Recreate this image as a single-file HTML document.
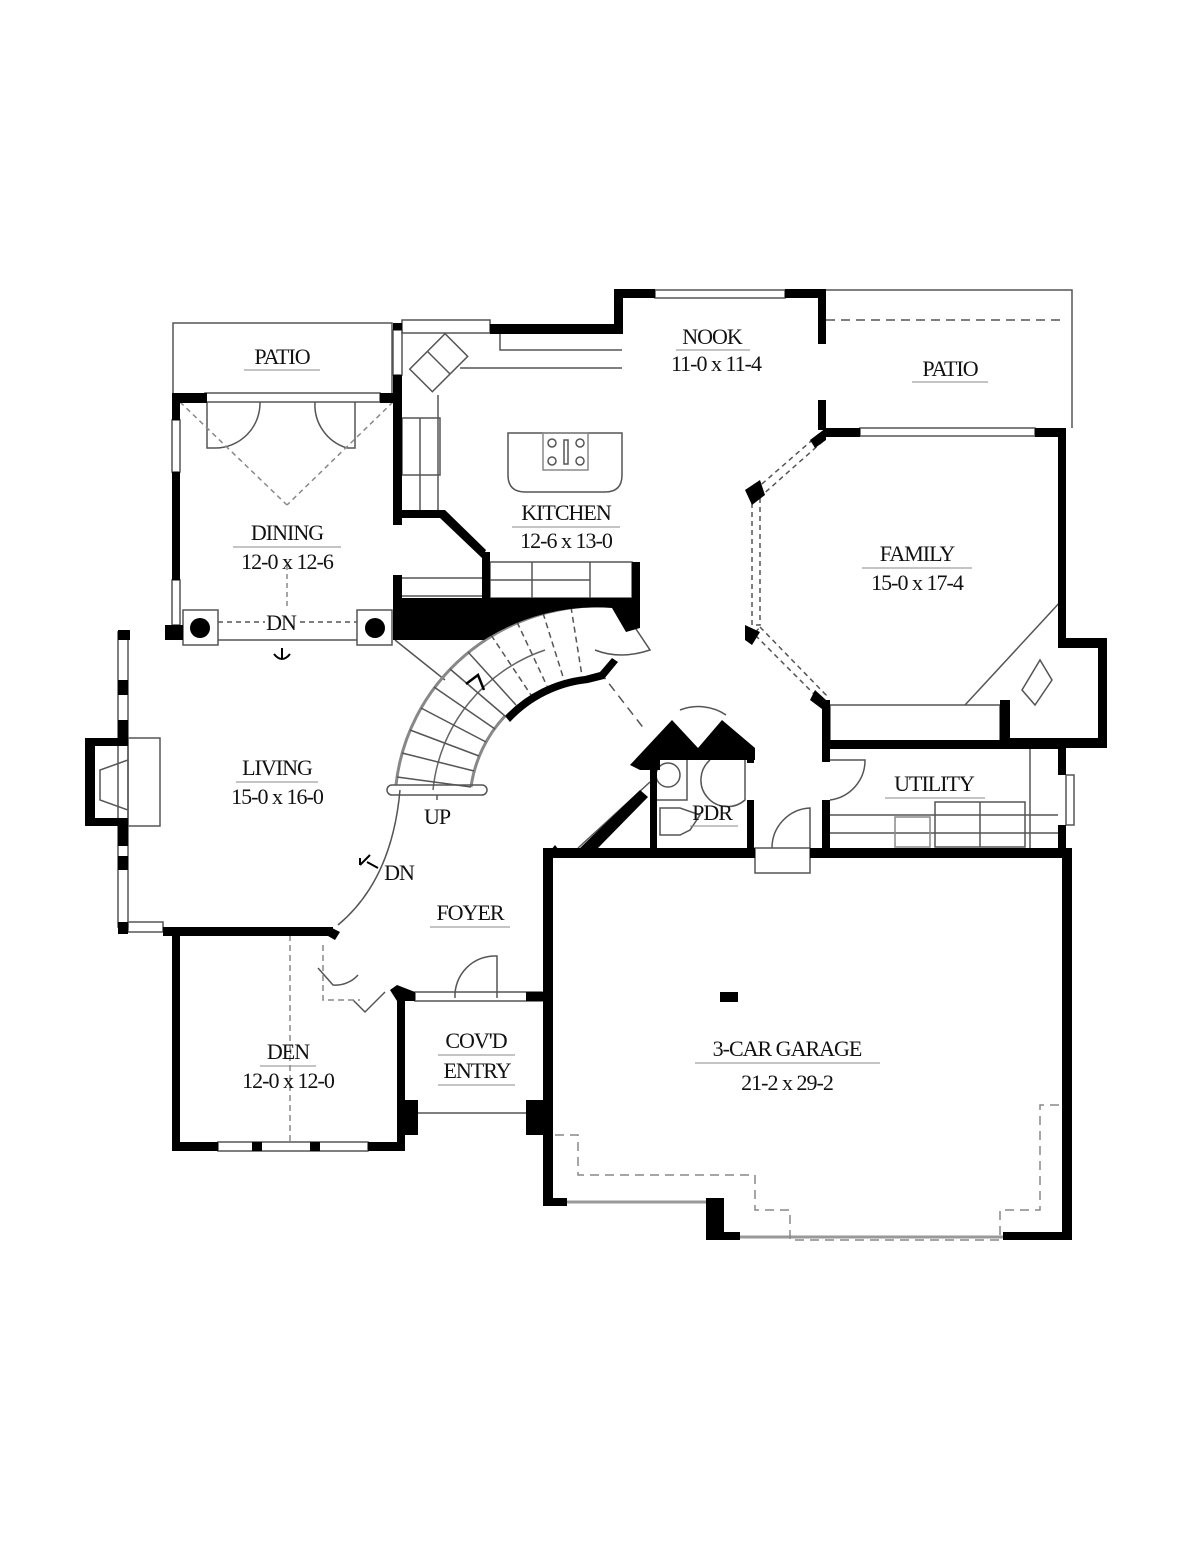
<!DOCTYPE html>
<html><head><meta charset="utf-8"><style>
html,body{margin:0;padding:0;background:#fff}
svg{display:block}
text{font-family:"Liberation Serif",serif;fill:#111;text-anchor:middle}
.n{font-size:22px;letter-spacing:-1px}
.d{font-size:22px;letter-spacing:-1px}
</style></head><body>
<svg width="1200" height="1553" viewBox="0 0 1200 1553" xmlns="http://www.w3.org/2000/svg">
<rect width="1200" height="1553" fill="#fff"/>
<g fill="none" stroke="#555" stroke-width="1.5">
<polyline points="173,395 173,323 392,323 392,395"/>
<polyline points="826,290 1072,290 1072,428"/>
<line x1="826" y1="320" x2="1062" y2="320" stroke-dasharray="9,6"/>
<rect x="402" y="320" width="88" height="13"/>
<rect x="393" y="330" width="9" height="45"/>
<polyline points="500,333 500,350 622,350"/>
<polyline points="460,368 622,368"/>
<polyline points="438,395 438,510"/>
<polyline points="420,418 420,510"/>
<rect x="402" y="418" width="38" height="57"/>
<g transform="rotate(-45 438 362)"><rect x="413" y="347" width="50" height="32"/><line x1="438" y1="347" x2="438" y2="379"/></g>
<path d="M508,433 H622 V475 Q622,492 605,492 H525 Q508,492 508,475 Z"/>
<rect x="543" y="433" width="45" height="37" stroke="#888"/>
<circle cx="552" cy="443" r="4"/><circle cx="580" cy="443" r="4"/><circle cx="552" cy="461" r="4"/><circle cx="580" cy="461" r="4"/>
<rect x="564" y="440" width="4" height="24"/>
<rect x="490" y="562" width="142" height="36"/>
<line x1="490" y1="580" x2="590" y2="580"/><line x1="532" y1="562" x2="532" y2="598"/><line x1="590" y1="562" x2="590" y2="598"/>
<line x1="402" y1="578" x2="482" y2="578"/><line x1="402" y1="596" x2="482" y2="596"/>
<rect x="655" y="290" width="130" height="8"/>
<rect x="860" y="428" width="175" height="8"/>
<rect x="205" y="393" width="175" height="9"/>
<path d="M207,402 V448 H215 M260,402 A45,45 0 0 1 215,448"/>
<path d="M355,402 V448 H347 M315,402 A45,45 0 0 0 347,448"/>
<line x1="180" y1="402" x2="287" y2="505" stroke-dasharray="5,4" stroke="#888"/>
<line x1="393" y1="402" x2="287" y2="505" stroke-dasharray="5,4" stroke="#888"/>
<line x1="287" y1="565" x2="287" y2="610" stroke-dasharray="5,4" stroke="#888"/>
<rect x="172" y="420" width="8" height="52"/>
<rect x="172" y="580" width="8" height="45"/>
<rect x="183" y="610" width="35" height="35"/><rect x="357" y="610" width="35" height="35"/>
<line x1="218" y1="640" x2="357" y2="640"/>
<line x1="218" y1="622" x2="265" y2="622" stroke-dasharray="5,4"/><line x1="300" y1="622" x2="357" y2="622" stroke-dasharray="5,4"/>
<rect x="118" y="632" width="10" height="295"/>
<rect x="128" y="738" width="32" height="88"/>
<path d="M128,760 L100,770 V800 L128,810"/>
<rect x="128" y="922" width="35" height="10"/>
<rect x="218" y="1142" width="150" height="9"/>
<line x1="290" y1="935" x2="290" y2="1142" stroke-dasharray="6,4" stroke="#888"/>
<rect x="415" y="992" width="127" height="9"/>
<line x1="415" y1="1113" x2="526" y2="1113"/>
<path d="M455,998 A40,40 0 0 1 497,956 V998"/>
<path d="M318,968 L333,985 A30,30 0 0 0 358,975 M353,1000 L365,1012 L385,992"/>
<polyline points="323,945 323,1000 360,1000" stroke-dasharray="6,4" stroke="#888"/>
<path d="M400,790 Q392,880 338,925"/>
<line x1="395" y1="640" x2="445" y2="680"/>
<!-- stair -->
<path d="M396,785 A205,200 0 0 1 605,606" stroke="#888" stroke-width="3"/>
<path d="M471,787 A130,130 0 0 1 505,716" stroke="#888" stroke-width="3"/>
<path d="M433,790 A167,165 0 0 1 545,650" stroke="#666"/>
<g stroke="#555">
<line x1="468" y1="652" x2="516" y2="705"/><line x1="450" y1="669" x2="505" y2="716"/><line x1="434" y1="687" x2="495" y2="729"/>
<line x1="421" y1="708" x2="486" y2="742"/><line x1="410" y1="730" x2="479" y2="756"/><line x1="402" y1="753" x2="474" y2="771"/>
<line x1="397" y1="777" x2="471" y2="787"/>
</g>
<g stroke="#555" stroke-dasharray="6,4">
<line x1="571" y1="607" x2="582" y2="676"/><line x1="543" y1="613" x2="564" y2="680"/><line x1="517" y1="622" x2="547" y2="686"/>
<line x1="491" y1="635" x2="531" y2="695"/>
<line x1="600" y1="672" x2="645" y2="730" stroke-dasharray="9,6"/>
</g>
<rect x="387" y="785" width="100" height="10" rx="5"/>
<line x1="437" y1="795" x2="437" y2="800"/>
<path d="M618,602 L650,650 Q620,660 595,650"/>
<g stroke-dasharray="5,4"><polygon points="755,490 818,435 822,442 760,497"/><rect x="752" y="497" width="8" height="128"/><polygon points="760,627 826,695 820,700 754,634"/></g>
<rect x="830" y="705" width="170" height="36"/>
<line x1="965" y1="705" x2="1062" y2="600"/>
<path d="M1022,690 L1040,660 L1052,680 L1035,705 Z"/>
<line x1="830" y1="815" x2="1058" y2="815"/><line x1="830" y1="833" x2="1058" y2="833"/>
<line x1="1030" y1="748" x2="1030" y2="850"/>
<rect x="935" y="802" width="90" height="45"/><line x1="980" y1="802" x2="980" y2="847"/>
<rect x="895" y="817" width="35" height="30" stroke="#888"/>
<rect x="1066" y="775" width="8" height="50"/>
<path d="M830,760 H865 A40,40 0 0 1 830,800"/>
<path d="M772,848 A40,40 0 0 1 810,808 V848"/>
<rect x="755" y="848" width="55" height="25"/>
<path d="M710,760 A25,25 0 0 0 745,800 V760"/>
<path d="M680,710 A45,40 0 0 1 726,715"/>
<rect x="655" y="752" width="32" height="48"/>
<circle cx="668" cy="775" r="12"/>
<path d="M660,808 H680 L700,815 L690,830 L680,835 H660 Z"/>
<line x1="578" y1="848" x2="650" y2="782"/>
<line x1="567" y1="1202" x2="706" y2="1202" stroke-width="3" stroke="#999"/>
<line x1="740" y1="1237" x2="1003" y2="1237" stroke-width="3" stroke="#999"/>
<g stroke-dasharray="9,6" stroke="#888"><polyline points="555,1135 578,1135 578,1175 755,1175 755,1210 790,1210 790,1240 1000,1240 1000,1210 1040,1210 1040,1105 1062,1105"/></g>
</g>
<g fill="#000">
<rect x="172" y="395" width="8" height="25"/><rect x="172" y="472" width="8" height="108"/>
<rect x="172" y="393" width="35" height="10"/><rect x="380" y="393" width="13" height="10"/>
<rect x="393" y="323" width="9" height="7"/><rect x="393" y="375" width="9" height="150"/>
<rect x="393" y="575" width="9" height="65"/>
<rect x="165" y="625" width="18" height="15"/>
<circle cx="200" cy="628" r="10"/><circle cx="375" cy="628" r="10"/>
<rect x="490" y="324" width="132" height="10"/><rect x="614" y="290" width="9" height="44"/>
<rect x="614" y="289" width="41" height="9"/><rect x="785" y="289" width="41" height="9"/>
<rect x="818" y="289" width="8" height="55"/><rect x="818" y="400" width="8" height="30"/>
<polygon points="402,510 445,510 486,550 482,558 440,518 402,518"/>
<rect x="482" y="552" width="8" height="50"/><rect x="632" y="562" width="8" height="40"/>
<path d="M395,598 H640 V628 L626,632 L612,608 A205,200 0 0 0 484,640 H395 Z"/>
<path d="M505,716 A130,130 0 0 1 585,676 L600,672 L612,658 L618,662 L604,679 L588,683 A124,124 0 0 0 510,722 Z"/>
<rect x="826" y="428" width="34" height="9"/><rect x="1035" y="428" width="31" height="9"/>
<rect x="1058" y="428" width="8" height="215"/>
<polygon points="1058,638 1107,638 1107,748 1000,748 1000,700 1010,700 1010,738 1098,738 1098,648 1058,648"/>
<polygon points="745,490 760,480 765,495 752,505"/><polygon points="745,625 760,632 752,645 745,640"/>
<polygon points="810,440 826,428 826,440 815,448"/>
<polygon points="815,690 826,700 826,712 810,700"/>
<rect x="822" y="700" width="8" height="62"/><rect x="822" y="800" width="8" height="50"/>
<rect x="826" y="740" width="240" height="9"/>
<rect x="1058" y="748" width="8" height="27"/><rect x="1058" y="825" width="8" height="30"/>
<rect x="543" y="848" width="212" height="10"/><rect x="810" y="848" width="262" height="10"/>
<polygon points="543,860 555,845 565,858 552,858"/>
<rect x="543" y="848" width="10" height="357"/>
<rect x="543" y="1198" width="24" height="8"/>
<rect x="706" y="1198" width="18" height="42"/><rect x="706" y="1232" width="34" height="8"/>
<rect x="1003" y="1232" width="69" height="8"/>
<rect x="1062" y="848" width="10" height="392"/>
<rect x="720" y="992" width="18" height="10"/>
<polygon points="630,765 672,720 698,748 722,720 755,748 755,760 660,760 660,770 640,770"/>
<rect x="650" y="752" width="7" height="103"/><rect x="747" y="800" width="7" height="55"/>
<rect x="747" y="748" width="7" height="15"/>
<polygon points="580,848 640,790 648,797 598,848"/>
<rect x="118" y="630" width="12" height="10"/><rect x="118" y="680" width="10" height="15"/>
<rect x="118" y="856" width="10" height="14"/><rect x="118" y="922" width="10" height="12"/>
<polygon points="85,738 128,738 128,746 95,746 95,818 128,818 128,826 85,826"/>
<rect x="118" y="720" width="10" height="20"/><rect x="118" y="826" width="10" height="20"/>
<rect x="163" y="927" width="170" height="9"/><polygon points="330,927 340,932 335,940 328,936"/>
<rect x="172" y="927" width="8" height="223"/><rect x="172" y="1142" width="46" height="9"/>
<rect x="252" y="1142" width="10" height="9"/><rect x="310" y="1142" width="10" height="9"/><rect x="368" y="1142" width="37" height="9"/>
<rect x="397" y="990" width="8" height="160"/>
<polygon points="390,990 397,985 415,992 415,1001 397,1001"/>
<rect x="400" y="1100" width="18" height="35"/>
<rect x="526" y="1100" width="18" height="35"/>
<rect x="526" y="992" width="17" height="9"/>
</g>
<text class="n" x="282" y="364">PATIO</text><line x1="244" y1="370" x2="320" y2="370" stroke="#888"/>
<text class="n" x="950" y="376">PATIO</text><line x1="912" y1="382" x2="988" y2="382" stroke="#888"/>
<text class="n" x="712" y="344">NOOK</text><line x1="676" y1="350" x2="750" y2="350" stroke="#888"/>
<text class="d" x="716" y="371">11-0 x 11-4</text>
<text class="n" x="566" y="520">KITCHEN</text><line x1="512" y1="527" x2="620" y2="527" stroke="#888"/>
<text class="d" x="566" y="548">12-6 x 13-0</text>
<text class="n" x="287" y="540">DINING</text><line x1="233" y1="547" x2="341" y2="547" stroke="#888"/>
<text class="d" x="287" y="569">12-0 x 12-6</text>
<text class="n" x="281" y="630">DN</text>
<text class="n" x="917" y="561">FAMILY</text><line x1="862" y1="568" x2="972" y2="568" stroke="#888"/>
<text class="d" x="917" y="590">15-0 x 17-4</text>
<text class="n" x="277" y="775">LIVING</text><line x1="236" y1="782" x2="318" y2="782" stroke="#888"/>
<text class="d" x="277" y="804">15-0 x 16-0</text>
<text class="n" x="437" y="824">UP</text>
<text class="n" x="399" y="880">DN</text>
<text class="n" x="934" y="791">UTILITY</text><line x1="885" y1="798" x2="985" y2="798" stroke="#888"/>
<text class="n" x="712" y="820">PDR</text><line x1="690" y1="826" x2="738" y2="826" stroke="#888"/>
<text class="n" x="470" y="920">FOYER</text><line x1="430" y1="927" x2="510" y2="927" stroke="#888"/>
<text class="n" x="476" y="1048">COV'D</text><line x1="438" y1="1055" x2="515" y2="1055" stroke="#888"/>
<text class="n" x="477" y="1078">ENTRY</text><line x1="438" y1="1085" x2="515" y2="1085" stroke="#888"/>
<text class="n" x="288" y="1059">DEN</text><line x1="260" y1="1066" x2="316" y2="1066" stroke="#888"/>
<text class="d" x="288" y="1088">12-0 x 12-0</text>
<text class="n" x="787" y="1056">3-CAR GARAGE</text><line x1="695" y1="1063" x2="880" y2="1063" stroke="#888"/>
<text class="d" x="787" y="1090">21-2 x 29-2</text>
<path d="M282,648 V658 M274,654 Q282,664 290,654" stroke="#000" fill="none" stroke-width="2"/>
<path d="M360,865 L370,855 M360,865 V858 M367,862 L378,868" stroke="#000" fill="none" stroke-width="2"/>
<path d="M466,684 L478,675 L484,690" stroke="#000" fill="none" stroke-width="2.5"/>
</svg>
</body></html>
